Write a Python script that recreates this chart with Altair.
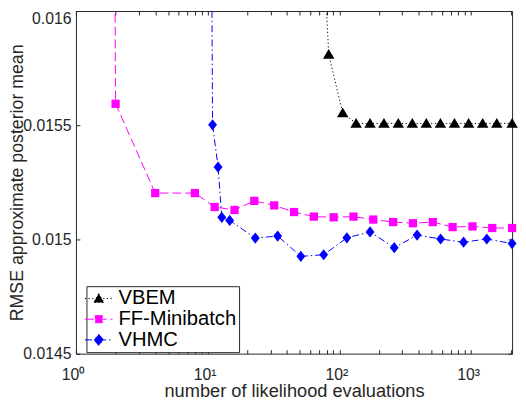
import altair as alt
import pandas as pd

series_names = ["VBEM", "FF-Minibatch", "VHMC"]

vbem_x = [65, 83, 106, 134, 171, 218, 280, 358, 457, 585, 748, 958, 1225, 1567, 2048]
vbem_y = [0.01704, 0.015811, 0.015554, 0.015508, 0.015508, 0.015508, 0.015508, 0.015508,
          0.015508, 0.015508, 0.015508, 0.015508, 0.015508, 0.015508, 0.015508]

ff_x = [1, 2, 4, 8, 11.3, 16, 22.6, 32, 45.3, 64, 90.5, 128, 181, 256, 362, 512, 724, 1024, 1448, 2048]
ff_y = [0.05, 0.015594, 0.015203, 0.015203, 0.015142, 0.015129, 0.015169, 0.015149, 0.015120,
        0.015100, 0.015097, 0.015100, 0.015087, 0.015076, 0.015071, 0.015076, 0.015054,
        0.015057, 0.015050, 0.015050]

vhmc_x = [8, 10.9, 12.0, 12.8, 14.7, 23, 34, 51, 76, 114, 171, 261, 389, 587, 877, 1316, 2048]
vhmc_y = [0.03, 0.015502, 0.015317, 0.015097, 0.015083, 0.015006, 0.015015, 0.014926, 0.014933,
          0.015007, 0.015033, 0.014964, 0.015019, 0.015002, 0.014988, 0.015002, 0.014982]

x_tick_values = [1, 2, 3, 4, 5, 6, 7, 8, 9,
                 10, 20, 30, 40, 50, 60, 70, 80, 90,
                 100, 200, 300, 400, 500, 600, 700, 800, 900,
                 1000, 2000]
y_tick_values = [0.0145, 0.015, 0.0155, 0.016]

colors = ["#000000", "#ff00ff", "#0000ff"]
dashes = [[1.2, 2.5], [9, 4], [7, 3, 1.5, 3]]
marker_paths = [
    "M0,-0.9L0.97,0.75L-0.97,0.75Z",
    "M-0.7,-0.7L0.7,-0.7L0.7,0.7L-0.7,0.7Z",
    "M0,-0.95L0.75,0L0,0.95L-0.75,0Z",
]
legend_paths = [
    "M-2.07,0M-1.4,0L1.4,0M0,-0.5L0.52,0.4L-0.52,0.4Z",
    "M-2.07,0M-1.4,0L1.4,0M-0.36,-0.36L0.36,-0.36L0.36,0.36L-0.36,0.36Z",
    "M-2.07,0M-1.4,0L1.4,0M0,-0.56L0.48,0L0,0.56L-0.48,0Z",
]

rows = []
for name, xs, ys in [("VBEM", vbem_x, vbem_y), ("FF-Minibatch", ff_x, ff_y), ("VHMC", vhmc_x, vhmc_y)]:
    for xv, yv in zip(xs, ys):
        rows.append({"series": name, "evals": xv, "rmse": yv})
df = pd.DataFrame(rows)

AX = "#262626"
FONT = "Liberation Sans"

x_scale = alt.Scale(type="log", domain=[1, 2048], nice=False)
y_scale = alt.Scale(domain=[0.0145, 0.016], nice=False, zero=False)

label_expr = ("datum.value == 1 ? '10\u2070' : datum.value == 10 ? '10\u00b9' : "
              "datum.value == 100 ? '10\u00b2' : datum.value == 1000 ? '10\u00b3' : ''")

common_tick = dict(offset=-4, tickSize=4, domain=False, grid=False, tickColor=AX, tickWidth=1)

x_axis_bottom = alt.Axis(
    orient="bottom", values=x_tick_values, labelExpr=label_expr, labelOverlap=False,
    labelFlush=False, labelPadding=13, labelOffset=-3, labelFontSize=16, labelColor=AX,
    labelFont=FONT, title="number of likelihood evaluations", titleFontSize=18.5,
    titleFontWeight="normal", titleColor=AX, titleFont=FONT, titleBaseline="alphabetic",
    titleY=47.5, **common_tick)
y_axis_left = alt.Axis(
    orient="left", values=y_tick_values, format=".4~f", labelPadding=5, labelFontSize=16,
    labelColor=AX, labelFont=FONT,
    labelBaseline={"condition": {"test": "datum.value >= 0.01599", "value": "top"}, "value": "middle"},
    title="RMSE approximate posterior mean", titleFontSize=18, titleFontWeight="normal",
    titleColor=AX, titleFont=FONT, titleBaseline="alphabetic", titleAngle=270, titleX=-58,
    **common_tick)
x_axis_top = alt.Axis(orient="top", values=x_tick_values, labels=False, title=None, **common_tick)
y_axis_right = alt.Axis(orient="right", values=y_tick_values, labels=False, title=None, **common_tick)

sym_expr = ("datum.value === 'VBEM' ? '" + legend_paths[0] + "' : datum.value === 'FF-Minibatch' ? '"
            + legend_paths[1] + "' : '" + legend_paths[2] + "'")
fill_expr = ("datum.value === 'VBEM' ? '" + colors[0] + "' : datum.value === 'FF-Minibatch' ? '"
             + colors[1] + "' : '" + colors[2] + "'")

legend_def = alt.Legend(
    title=None, orient="none", legendX=10.7, legendY=279.5,
    symbolType=alt.ExprRef(expr=sym_expr), symbolFillColor=alt.ExprRef(expr=fill_expr),
    symbolStrokeColor=alt.ExprRef(expr=fill_expr),
    symbolSize=400, symbolStrokeWidth=1, symbolOpacity=1,
    labelFontSize=20.5, labelFont=FONT, labelColor="#000000", labelOffset=9.5,
    padding=2, rowPadding=0, fillColor="white", strokeColor=AX, labelLimit=0,
)

color_scale = alt.Scale(domain=series_names, range=colors)

lines = alt.Chart(df).mark_line(clip=True, strokeWidth=1).encode(
    x=alt.X("evals:Q", scale=x_scale, axis=x_axis_bottom),
    y=alt.Y("rmse:Q", scale=y_scale, axis=y_axis_left),
    color=alt.Color("series:N", scale=color_scale, legend=legend_def),
    strokeDash=alt.StrokeDash("series:N", scale=alt.Scale(domain=series_names, range=dashes),
                              legend=legend_def),
)

point_layers = []
for i, name in enumerate(series_names):
    point_layers.append(
        alt.Chart(df).transform_filter(
            f"datum.series === '{name}' && datum.rmse <= 0.016"
        ).mark_point(
            filled=True, size=144, opacity=1, shape=marker_paths[i], fill=colors[i], strokeWidth=0
        ).encode(
            x=alt.X("evals:Q", scale=x_scale, axis=x_axis_top if i == 0 else None),
            y=alt.Y("rmse:Q", scale=y_scale, axis=y_axis_right if i == 0 else None),
        )
    )

chart = alt.layer(lines, *point_layers).resolve_axis(x="independent", y="independent").properties(
    width=443, height=348,
    autosize=alt.AutoSizeParams(type="none"),
    padding={"left": 69, "top": 0, "right": 6, "bottom": 44},
    background="white",
).configure(font=FONT).configure_view(stroke=AX, strokeWidth=1)

chart.save("out.html", embed_options={"renderer": "svg", "actions": False})
